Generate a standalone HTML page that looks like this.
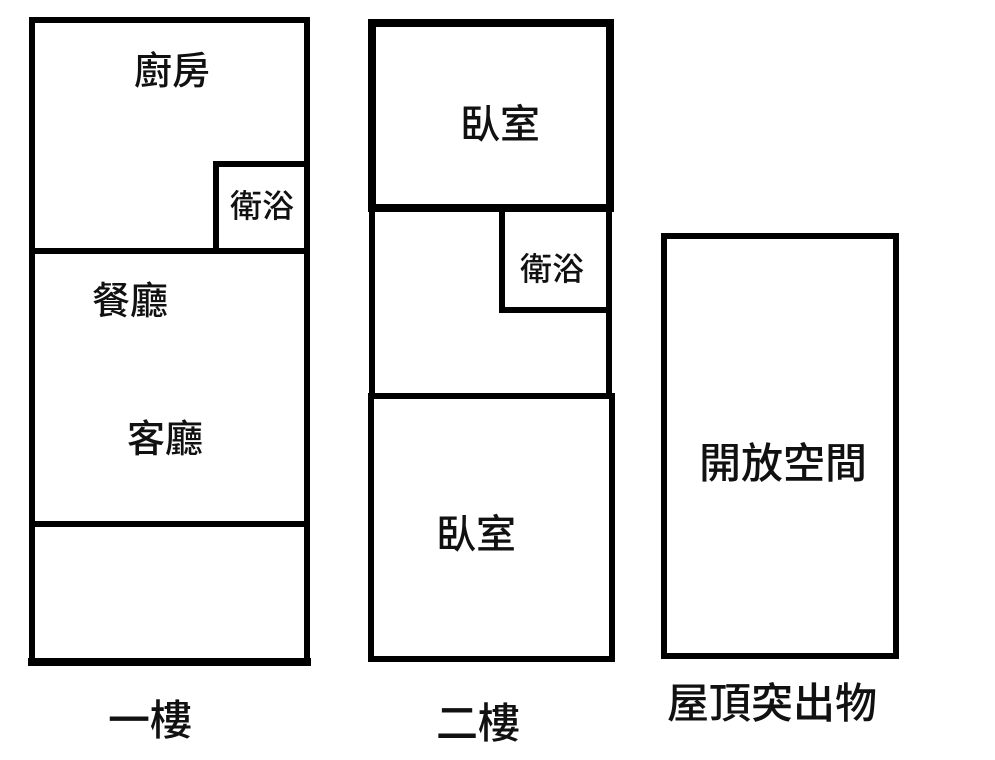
<!DOCTYPE html>
<html><head><meta charset="utf-8"><style>
html,body{margin:0;padding:0;background:#fff;}
svg{display:block}
text{font-family:"Liberation Sans","Noto Sans CJK TC",sans-serif;fill:#111;font-weight:500;}
</style></head><body>
<svg width="995" height="760" viewBox="0 0 995 760">
<g fill="none" stroke="#000" stroke-linecap="square">
<rect x="32" y="20" width="275" height="643" stroke-width="6"/>
<line x1="32" y1="251" x2="307" y2="251" stroke-width="6"/>
<polyline points="216,251 216,164 307,164" stroke-width="6"/>
<line x1="32" y1="524" x2="307" y2="524" stroke-width="6"/>
<line x1="32" y1="662" x2="307" y2="662" stroke-width="8"/>
<rect x="372" y="23" width="238" height="185" stroke-width="8"/>
<line x1="372" y1="208" x2="372" y2="396" stroke-width="6"/>
<line x1="609" y1="208" x2="609" y2="396" stroke-width="6"/>
<polyline points="502,208 502,310 609,310" stroke-width="6"/>
<rect x="371" y="396" width="241" height="263" stroke-width="6"/>
<rect x="664" y="236" width="232" height="420" stroke-width="6"/>
</g>
<g text-anchor="middle">
<text x="172" y="84" font-size="38">廚房</text>
<text x="262" y="217" font-size="32">衛浴</text>
<text x="130" y="314" font-size="38">餐廳</text>
<text x="165" y="452" font-size="38">客廳</text>
<text x="500" y="138" font-size="40">臥室</text>
<text x="552" y="280" font-size="32">衛浴</text>
<text x="476" y="548" font-size="40">臥室</text>
<text x="783" y="478" font-size="42">開放空間</text>
<text x="150" y="735" font-size="42">一樓</text>
<text x="478" y="738" font-size="42">二樓</text>
<text x="772" y="718" font-size="42">屋頂突出物</text>
</g>
</svg>
</body></html>
